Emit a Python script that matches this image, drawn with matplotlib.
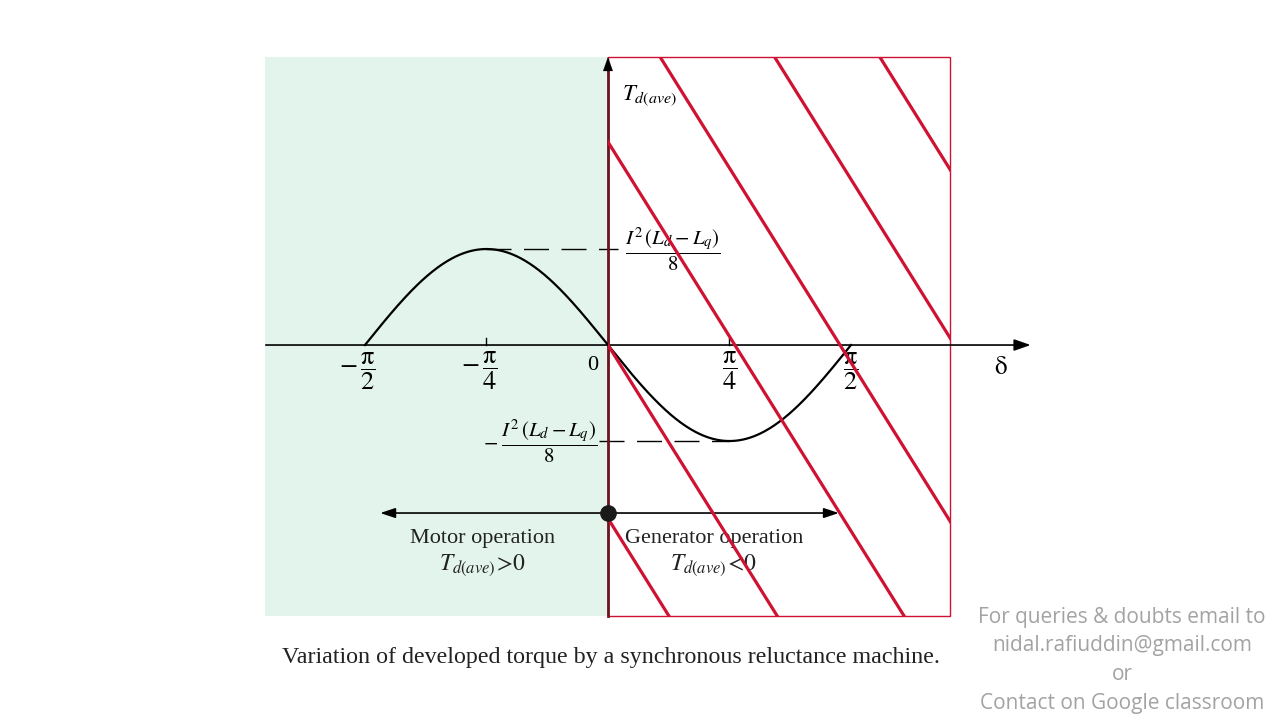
import matplotlib
matplotlib.use("Agg")
import matplotlib.pyplot as plt
from matplotlib.patches import Rectangle
import numpy as np

plt.rcParams["font.family"] = ["Liberation Serif", "DejaVu Serif"]
plt.rcParams["mathtext.fontset"] = "stix"

# Chart values (delta in radians, torque in units of I^2 (Ld - Lq) / 8)
delta_range = [-np.pi / 2, np.pi / 2]
torque_peak = 1.0
tick_positions = [-np.pi / 2, -np.pi / 4, np.pi / 4, np.pi / 2]
tick_labels = [r"$-\,\dfrac{\mathrm{π}}{2}$", r"$-\,\dfrac{\mathrm{π}}{4}$",
               r"$\dfrac{\mathrm{π}}{4}$", r"$\dfrac{\mathrm{π}}{2}$"]
motor_region = [-2.22, 0.0]
generator_region = [0.0, 2.21]
region_height = [-2.82, 3.0]
hatch_crossings = [-0.70, 0.0, 0.82, 1.50, 2.24, 2.92]
hatch_slope = -2.58
operation_level = -1.75

RED = "#cf1232"
MAROON = "#6e1520"
GREEN = "#e2f4eb"

fig = plt.figure(figsize=(12.8, 7.2), dpi=100)
ax = fig.add_axes([0, 0, 1, 1])
ax.set_xlim(-3.930, 4.344)
ax.set_ylim(-3.906, 3.594)
ax.axis("off")

# shaded regions
ax.add_patch(Rectangle((motor_region[0], region_height[0]), motor_region[1] - motor_region[0],
                       region_height[1] - region_height[0], facecolor=GREEN, edgecolor="none", zorder=0))
box = Rectangle((generator_region[0], region_height[0]), generator_region[1] - generator_region[0],
                region_height[1] - region_height[0], facecolor="white", edgecolor=RED, lw=1.0, zorder=1)
ax.add_patch(box)

# hatch lines clipped to the generator box
xs = np.array([-3.0, 3.5])
for c in hatch_crossings:
    ln, = ax.plot(xs, hatch_slope * (xs - c), color=RED, lw=2.3, zorder=6, solid_capstyle="butt")
    ln.set_clip_path(box)

# axes
ax.annotate("", xy=(2.75, 0), xytext=(-2.23, 0),
            arrowprops=dict(arrowstyle="-|>,head_length=1.0,head_width=0.35", color="black", lw=1.2),
            zorder=3)
ax.plot([0, 0], [region_height[0], 2.9], color=MAROON, lw=2.0, zorder=4)
ax.annotate("", xy=(0, 3.03), xytext=(0, 2.8),
            arrowprops=dict(arrowstyle="-|>,head_length=1.0,head_width=0.35", color="black", lw=0.1),
            zorder=4)

# torque curve
delta = np.linspace(delta_range[0], delta_range[1], 400)
torque = -torque_peak * np.sin(2 * delta)
ax.plot(delta, torque, color="black", lw=1.6, zorder=5)

# ticks
for t in tick_positions[1:3]:
    ax.plot([t, t], [0, 0.07], color="black", lw=1.0, zorder=3)
for t, lab in zip(tick_positions, tick_labels):
    off = -0.05 if t < 0 else 0.0
    ax.text(t + off, -0.27, lab, ha="center", va="center", fontsize=19, zorder=5)
ax.text(-0.097, -0.21, "0", ha="center", va="center", fontsize=16, zorder=5)
ax.text(2.54, -0.24, r"$\mathrm{δ}$", ha="center", va="center", fontsize=18, zorder=5)
ax.text(0.09, 2.6, r"$T_{d(ave)}$", ha="left", va="center", fontsize=16.5, zorder=5)

# peak markers
ax.plot([-np.pi / 4, 0.065], [torque_peak, torque_peak], color="black", lw=1.0,
        dashes=(18, 9), zorder=3)
ax.plot([-0.06, np.pi / 4], [-torque_peak, -torque_peak], color="black", lw=1.0,
        dashes=(18, 9), zorder=3)
frac = r"\dfrac{I^2\,(L_d - L_q)}{8}"
ax.text(0.42, torque_peak, "$" + frac + "$", ha="center", va="center", fontsize=15, zorder=5)
ax.text(-0.071, -torque_peak, r"$-\;" + frac + "$", ha="right", va="center", fontsize=15, zorder=5)

# operation arrows
ax.annotate("", xy=(-1.49, operation_level), xytext=(0, operation_level),
            arrowprops=dict(arrowstyle="-|>,head_length=0.9,head_width=0.3", color="black", lw=1.2),
            zorder=5)
ax.annotate("", xy=(1.51, operation_level), xytext=(0, operation_level),
            arrowprops=dict(arrowstyle="-|>,head_length=0.9,head_width=0.3", color="black", lw=1.2),
            zorder=5)
ax.plot([0], [operation_level], "o", color="#1a1a1a", markersize=11, zorder=7)

ax.text(-0.81, -2.02, "Motor operation", ha="center", va="center", fontsize=16, color="#222222", zorder=5)
ax.text(-0.81, -2.29, r"$T_{d(ave)}\!>\!0$", ha="center", va="center", fontsize=17, color="#222222", zorder=5)
ax.text(0.685, -2.02, "Generator operation", ha="center", va="center", fontsize=16, color="#222222", zorder=5)
ax.text(0.685, -2.29, r"$T_{d(ave)}\!<\!0$", ha="center", va="center", fontsize=17, color="#222222", zorder=5)

# caption
ax.text(0.02, -3.25, "Variation of developed torque by a synchronous reluctance machine.",
        ha="center", va="center", fontsize=17.3, color="#222222")

# watermark
note = ["For queries & doubts email to", "nidal.rafiuddin@gmail.com", "or", "Contact on Google classroom"]
for i, line in enumerate(note):
    fig.text(1122 / 1280, 1 - (617 + 29 * i) / 720, line, ha="center", va="center",
             fontsize=15, color="#a3a3a3", family="Open Sans")

fig.savefig("out.png", dpi=100)
